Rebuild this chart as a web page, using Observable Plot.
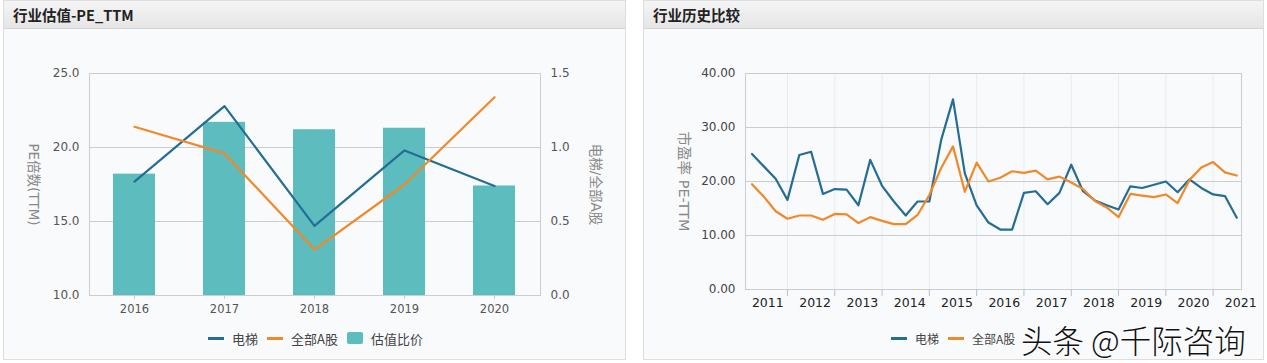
<!DOCTYPE html>
<html><head><meta charset="utf-8">
<script src="https://cdn.jsdelivr.net/npm/d3@7"></script>
<script src="https://cdn.jsdelivr.net/npm/@observablehq/plot@0.6"></script>
<style>
body{margin:0;width:1267px;height:363px;background:#ffffff;position:relative;overflow:hidden;font-family:"Noto Sans CJK SC","DejaVu Sans",sans-serif;}
.panel{position:absolute;top:0;height:360px;border:1px solid #dedede;background:#f9fafc;box-sizing:border-box;}
.hdr{height:28px;background:linear-gradient(#f4f4f4,#e6e6e6);border-bottom:1px solid #d4d4d4;font-weight:bold;font-size:14.5px;line-height:28px;padding-left:9px;color:#222;box-sizing:border-box;}
.chart{position:absolute;top:40px;}
.legend{position:absolute;top:329px;height:18px;font-size:13px;color:#444;display:flex;align-items:center;white-space:nowrap;}
.sw{display:inline-block;width:16px;height:3px;margin-right:8px;}
.box{display:inline-block;width:16px;height:12px;margin-right:8px;border-radius:2px;}
.item{display:flex;align-items:center;margin-right:9px;}
.wm{position:absolute;left:1021px;top:316px;font-size:31.5px;color:#111;font-family:"Noto Sans CJK SC",sans-serif;font-weight:300;-webkit-text-stroke:1px #fff;paint-order:stroke fill;text-shadow:0 0 2px #fff,0 0 2px #fff;white-space:nowrap;}
</style>
</head><body>
<div class="panel" style="left:3px;width:623px;"><div class="hdr">行业估值-PE_TTM</div></div>
<div class="panel" style="left:643px;width:621px;"><div class="hdr">行业历史比较</div></div>
<div id="c1" class="chart" style="left:0px;"></div>
<div id="c2" class="chart" style="left:640px;"></div>
<div class="legend" style="left:208px;">
  <span class="item"><span class="sw" style="background:#246d94"></span>电梯</span>
  <span class="item"><span class="sw" style="background:#f0892a"></span>全部A股</span>
  <span class="item"><span class="box" style="background:#5dbdbe"></span>估值比价</span>
</div>
<div class="legend" style="left:891px;font-size:12px;">
  <span class="item"><span class="sw" style="background:#246d94"></span>电梯</span>
  <span class="item"><span class="sw" style="background:#f0892a"></span>全部A股</span>
</div>
<div class="wm">头条 @千际咨询</div>
<script>
// ---- Left chart data ----
const years = ["2016","2017","2018","2019","2020"];
const elevatorPE = [17.7, 22.8, 14.7, 19.8, 17.4];
const allAPE = [21.4, 19.6, 13.1, 17.5, 23.4];
const valuationRatio = [0.82, 1.17, 1.12, 1.13, 0.74];
const leftTicks = [10, 15, 20, 25];

// ---- Right chart data ----
const quarters = ["2011Q1","2011Q2","2011Q3","2011Q4","2012Q1","2012Q2","2012Q3","2012Q4",
  "2013Q1","2013Q2","2013Q3","2013Q4","2014Q1","2014Q2","2014Q3","2014Q4",
  "2015Q1","2015Q2","2015Q3","2015Q4","2016Q1","2016Q2","2016Q3","2016Q4",
  "2017Q1","2017Q2","2017Q3","2017Q4","2018Q1","2018Q2","2018Q3","2018Q4",
  "2019Q1","2019Q2","2019Q3","2019Q4","2020Q1","2020Q2","2020Q3","2020Q4",
  "2021Q1","2021Q2"];
const elevatorHist = [25.1,22.8,20.5,16.6,24.9,25.5,17.7,18.6,18.5,15.6,24.0,19.2,16.3,13.7,16.3,16.3,
  27.7,35.2,21.5,15.6,12.4,11.1,11.1,17.9,18.2,15.8,17.9,23.1,18.2,16.5,15.6,14.8,
  19.1,18.8,19.4,20.0,18.0,20.4,18.8,17.6,17.3,13.3];
const allAHist = [19.5,17.2,14.5,13.1,13.7,13.7,12.9,14.0,13.9,12.3,13.4,12.7,12.1,12.1,13.8,17.5,
  22.5,26.5,18.1,23.5,20.0,20.7,21.9,21.6,22.0,20.4,20.9,19.8,18.6,16.4,15.2,13.4,
  17.7,17.4,17.1,17.6,16.0,20.3,22.6,23.6,21.7,21.1];
const yearLabelQuarters = ["2011Q2","2012Q2","2013Q2","2014Q2","2015Q2","2016Q2","2017Q2","2018Q2","2019Q2","2020Q2","2021Q2"];
const tickQuarters = ["2011Q4","2012Q4","2013Q4","2014Q4","2015Q4","2016Q4","2017Q4","2018Q4","2019Q4","2020Q4"];
const rightTicks = [0, 10, 20, 30, 40];

const BLUE = "#246d94", ORANGE = "#f0892a", TEAL = "#5dbdbe", GRID = "#c9ced4";
const TITLE_FONT = "DejaVu Sans, Noto Sans CJK SC, sans-serif";

const leftData = years.map((y, i) => ({year: y, elev: elevatorPE[i], allA: allAPE[i], ratio: valuationRatio[i]}));

const left = Plot.plot({
  width: 625, height: 280,
  marginLeft: 89, marginRight: 85, marginTop: 33, marginBottom: 25,
  style: {background: "transparent", fontFamily: "DejaVu Sans, sans-serif", fontSize: "12px", color: "#555", overflow: "visible"},
  x: {type: "band", domain: years, paddingInner: 0.53, paddingOuter: 0.265},
  y: {domain: [10, 25]},
  marks: [
    Plot.gridY([15, 20], {stroke: GRID, strokeOpacity: 1}),
    Plot.barY(leftData, {x: "year", y1: 10, y2: d => 10 + d.ratio * 10, fill: TEAL}),
    Plot.frame({stroke: GRID}),
    Plot.line(leftData, {x: "year", y: "elev", stroke: BLUE, strokeWidth: 2.2}),
    Plot.line(leftData, {x: "year", y: "allA", stroke: ORANGE, strokeWidth: 2.2}),
    Plot.axisY({ticks: leftTicks, tickFormat: d3.format(".1f"), tickSize: 0, tickPadding: 10, label: null}),
    Plot.axisY({anchor: "right", ticks: leftTicks, tickFormat: d => ((d - 10) / 10).toFixed(1), tickSize: 0, tickPadding: 10, label: null}),
    Plot.axisX({tickSize: 4, tickPadding: 5, label: null, stroke: GRID, fontSize: 11.5}),
    Plot.text(["PE倍数(TTM)"], {frameAnchor: "left", dx: -56, rotate: 90, textAnchor: "middle", fill: "#888", fontSize: 13.5, fontFamily: TITLE_FONT}),
    Plot.text(["电梯/全部A股"], {frameAnchor: "right", dx: 55, rotate: 90, textAnchor: "middle", fill: "#888", fontSize: 13.5, fontFamily: TITLE_FONT})
  ]
});
document.getElementById("c1").append(left);

const rightData = quarters.map((q, i) => ({i, q, elev: elevatorHist[i], allA: allAHist[i]}));
const qi = q => quarters.indexOf(q);

const right = Plot.plot({
  width: 627, height: 280,
  marginLeft: 105, marginRight: 26, marginTop: 33, marginBottom: 31,
  style: {background: "transparent", fontFamily: "DejaVu Sans, sans-serif", fontSize: "12px", color: "#444", overflow: "visible"},
  x: {type: "linear", domain: [-0.55, 41.4]},
  y: {domain: [0, 40]},
  marks: [
    Plot.gridX(tickQuarters.map(qi), {stroke: "#e9ecf0", strokeOpacity: 1}),
    Plot.gridY([10, 20, 30], {stroke: GRID, strokeOpacity: 1}),
    Plot.frame({stroke: GRID}),
    Plot.axisX({ticks: tickQuarters.map(qi), tickFormat: () => "", tickSize: 7, stroke: "#b9c0c8", label: null}),
    Plot.text(yearLabelQuarters, {x: qi, y: 0, dy: 13, dx: 4, text: q => q.slice(0, 4), fill: "#222", fontSize: 12.5, letterSpacing: "0.6px"}),
    Plot.axisY({ticks: rightTicks, tickFormat: d3.format(".2f"), tickSize: 0, tickPadding: 10, label: null}),
    Plot.line(rightData, {x: "i", y: "elev", stroke: BLUE, strokeWidth: 2.2}),
    Plot.line(rightData, {x: "i", y: "allA", stroke: ORANGE, strokeWidth: 2.2}),
    Plot.text(["市盈率 PE-TTM"], {frameAnchor: "left", dx: -62, rotate: 90, textAnchor: "middle", fill: "#888", fontSize: 14.5, fontFamily: TITLE_FONT})
  ]
});
document.getElementById("c2").append(right);
</script>
</body></html>
